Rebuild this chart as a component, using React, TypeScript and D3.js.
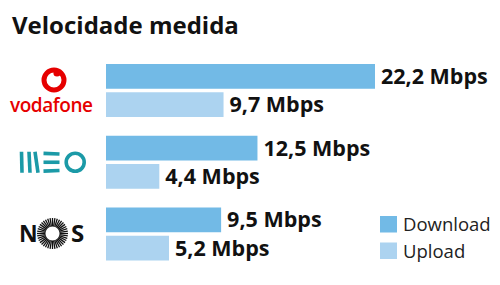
import React from "react";
import * as d3 from "d3";

const providers = ["vodafone", "meo", "nos"];
const series = ["Download", "Upload"];
const downloadValues = [22.2, 12.5, 9.5];
const uploadValues = [9.7, 4.4, 5.2];
const valueLabels = [
  ["22,2 Mbps", "9,7 Mbps"],
  ["12,5 Mbps", "4,4 Mbps"],
  ["9,5 Mbps", "5,2 Mbps"],
];
const title = "Velocidade medida";

const colors: Record<string, string> = { Download: "#72bae6", Upload: "#acd3f0" };
const FONT = "'Open Sans', sans-serif";

function VodafoneLogo({ cy }: { cy: number }) {
  const red = "#e60000";
  return (
    <g>
      <circle cx={54} cy={cy - 25} r={10} fill="none" stroke={red} strokeWidth={5} />
      <circle cx={57} cy={cy - 32} r={3.6} fill={red} />
      <text x={10} y={cy + 7} fontFamily={FONT} fontWeight={600} fontSize={19} fill={red} textLength={83}>
        vodafone
      </text>
    </g>
  );
}

function MeoLogo({ cy }: { cy: number }) {
  const teal = "#1b9aa7";
  const sw = 3.6;
  const top = cy - 10.5;
  const bot = cy + 10.5;
  return (
    <g stroke={teal} strokeWidth={sw} fill="none">
      <line x1={21.5} y1={top} x2={22} y2={bot} />
      <line x1={29} y1={top} x2={30} y2={bot} />
      <line x1={35} y1={top} x2={38} y2={bot} />
      <line x1={43.5} y1={top + 1.6} x2={59.5} y2={top + 2.2} />
      <line x1={43.5} y1={cy} x2={59.5} y2={cy} />
      <line x1={43.5} y1={bot - 1.6} x2={59.5} y2={bot - 2.2} />
      <circle cx={75.2} cy={cy} r={9} />
    </g>
  );
}

function NosLogo({ cy }: { cy: number }) {
  const cx = 52.5;
  const rays = d3.range(40).map((i) => (i / 40) * Math.PI * 2);
  return (
    <g>
      <text x={19} y={cy + 8.5} fontFamily={FONT} fontWeight={700} fontSize={23} fill="#111">
        N
      </text>
      {rays.map((a, i) => (
        <line
          key={i}
          x1={cx + Math.cos(a) * 7}
          y1={cy + Math.sin(a) * 7}
          x2={cx + Math.cos(a) * 15.5}
          y2={cy + Math.sin(a) * 15.5}
          stroke="#111"
          strokeWidth={1.3}
        />
      ))}
      <text x={71} y={cy + 8.5} fontFamily={FONT} fontWeight={700} fontSize={24} fill="#111">
        S
      </text>
    </g>
  );
}

export default function App() {
  const width = 500;
  const height = 285;
  const x = d3.scaleLinear().domain([0, 22.2]).range([106, 375]);
  const y = d3.scaleBand<string>().domain(providers).range([64, 260.5]).paddingInner(0.2613).paddingOuter(0);
  const ySub = d3.scaleBand<string>().domain(series).range([0, y.bandwidth()]).paddingInner(0.124).paddingOuter(0);

  const rows = providers.map((p, i) => ({
    provider: p,
    values: [
      { s: "Download", v: downloadValues[i], label: valueLabels[i][0] },
      { s: "Upload", v: uploadValues[i], label: valueLabels[i][1] },
    ],
  }));

  return (
    <svg width={width} height={height} style={{ position: "absolute", left: 0, top: 0, background: "#fff" }}>
      <rect width={width} height={height} fill="#fff" />
      <text x={12} y={34} fontFamily={FONT} fontWeight={700} fontSize={24} fill="#111">
        {title}
      </text>
      {rows.map((r) => {
        const gy = y(r.provider)!;
        const cy = gy + y.bandwidth() / 2;
        return (
          <g key={r.provider}>
            {r.provider === "vodafone" && <VodafoneLogo cy={cy + 14.5} />}
            {r.provider === "meo" && <MeoLogo cy={cy} />}
            {r.provider === "nos" && <NosLogo cy={cy - 0.5} />}
            {r.values.map((d) => {
              const by = gy + ySub(d.s)!;
              const bh = ySub.bandwidth();
              return (
                <g key={d.s}>
                  <rect x={x(0)} y={by} width={x(d.v) - x(0)} height={bh} fill={colors[d.s]} />
                  <text
                    x={x(d.v) + 6}
                    y={by + bh / 2 + 7.5}
                    fontFamily={FONT}
                    fontWeight={700}
                    fontSize={21.5}
                    fill="#111"
                  >
                    {d.label}
                  </text>
                </g>
              );
            })}
          </g>
        );
      })}
      {series.map((s, i) => (
        <g key={s}>
          <rect x={380} y={216 + i * 26.5} width={17} height={16.5} fill={colors[s]} />
          <text x={403} y={231 + i * 26.5} fontFamily={FONT} fontSize={18.5} fill="#222">
            {s}
          </text>
        </g>
      ))}
    </svg>
  );
}
